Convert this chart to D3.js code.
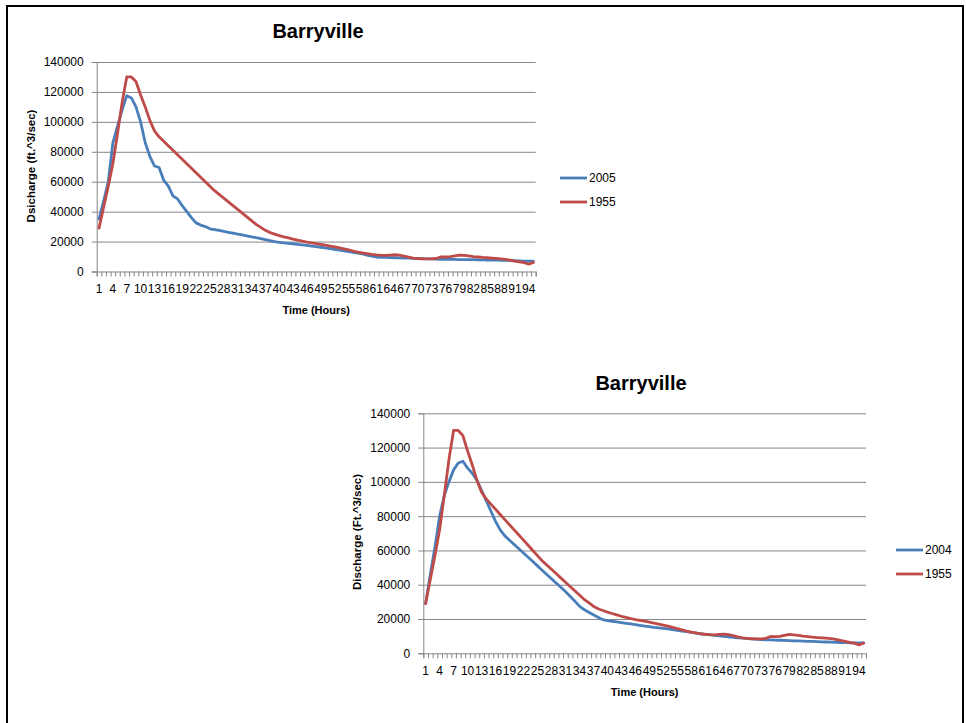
<!DOCTYPE html>
<html>
<head>
<meta charset="utf-8">
<script src="https://cdn.jsdelivr.net/npm/d3@7"></script>
<style>
  html, body { margin: 0; padding: 0; background: #fff; }
  svg { display: block; }
  text { font-family: "Liberation Sans", Arial, sans-serif; fill: #000; }
</style>
</head>
<body>
<svg id="chart" width="966" height="723"></svg>
<script>
// ---------- DATA ----------
const hours = [1,2,3,4,5,6,7,8,9,10,11,12,13,14,15,16,17,18,19,20,
  21,22,23,24,25,26,27,28,29,30,31,32,33,34,35,36,37,38,39,40,
  41,42,43,44,45,46,47,48,49,50,51,52,53,54,55,56,57,58,59,60,
  61,62,63,64,65,66,67,68,69,70,71,72,73,74,75,76,77,78,79,80,
  81,82,83,84,85,86,87,88,89,90,91,92,93,94,95];
const hourTickLabels = [1,4,7,10,13,16,19,22,25,28,31,34,37,40,43,46,49,52,55,58,61,64,67,70,73,76,79,82,85,88,91,94];
const yTickValues = [0,20000,40000,60000,80000,100000,120000,140000];

const discharge1955 = [29000,43000,57000,72000,92000,113000,130000,130000,127000,118000,
  110000,101000,94000,90000,87000,84000,81000,78000,75000,72000,
  69000,66000,63000,60000,57000,54000,51500,49000,46500,44000,
  41500,39000,36500,34000,31500,29500,27500,26000,25000,24000,
  23200,22400,21600,20900,20300,19700,19200,18700,18200,17600,
  17000,16400,15800,15100,14400,13700,13000,12400,11900,11400,
  11100,10900,10800,11000,11200,10900,10300,9600,9000,8700,
  8500,8400,8400,8700,9800,9700,9900,10500,11000,10800,
  10400,10000,9700,9400,9200,9000,8800,8500,8100,7600,
  7000,6400,5900,4900,6000];

const discharge2005 = [35000,47000,60000,86000,97000,108000,117500,116000,110000,100000,
  86000,77000,70500,69500,61000,57000,50500,48500,44000,40000,
  36000,32500,31000,30000,28500,28000,27400,26800,26200,25600,
  25000,24400,23800,23200,22600,22000,21300,20600,20000,19500,
  19100,18800,18500,18200,17800,17400,17000,16600,16200,15800,
  15300,14800,14300,13800,13300,12800,12300,11700,11000,10300,
  9700,9500,9400,9300,9200,9100,9000,8900,8800,8700,
  8600,8500,8400,8300,8200,8200,8100,8100,8000,8000,
  7900,7900,7800,7800,7700,7700,7600,7500,7400,7300,
  7200,7100,7000,7000,7000];

const discharge2004 = [29000,46000,62000,80000,92000,100000,107000,111000,112000,108000,
  105000,101000,95000,89000,83000,77000,72000,68500,66000,63500,
  61000,58500,56000,53500,51000,48500,46000,43500,41000,38500,
  36000,33300,30500,27500,25500,24000,22500,21000,19600,19100,
  18700,18300,17900,17500,17100,16700,16300,15900,15500,15100,
  14800,14500,14200,13800,13400,13000,12600,12200,11800,11400,
  11100,10800,10500,10200,9900,9600,9300,9000,8800,8600,
  8400,8200,8000,7900,7800,7700,7600,7500,7400,7300,
  7200,7100,7000,6900,6800,6700,6600,6500,6400,6300,
  6200,6100,6000,6000,6000];

const blue = "#4a7ebb";
const red = "#be4b48";
const gridColor = "#868686";

const svg = d3.select("#chart");

// outer frame
svg.append("rect")
  .attr("x", 7).attr("y", 6)
  .attr("width", 956).attr("height", 740)
  .attr("fill", "none").attr("stroke", "#000").attr("stroke-width", 2);

function drawChart(cfg) {
  const g = svg.append("g");
  const x = d3.scaleBand().domain(hours).range([cfg.x0, cfg.x1]).padding(0);
  const xMinor = d3.scaleLinear().domain([0, hours.length]).range([cfg.x0, cfg.x1]);
  const y = d3.scaleLinear().domain([0, 140000]).range([cfg.yBot, cfg.yTop]);
  const cx = h => x(h) + x.bandwidth() / 2;

  // gridlines
  const grid = g.append("g")
    .attr("transform", `translate(${cfg.x0},0)`)
    .call(d3.axisLeft(y).tickValues(yTickValues.filter(v => v > 0)).tickSize(-(cfg.x1 - cfg.x0)).tickFormat(""));
  grid.select(".domain").remove();
  grid.selectAll("line").attr("stroke", gridColor).attr("stroke-width", 1);

  // y axis
  const ya = g.append("g")
    .attr("transform", `translate(${cfg.x0},0)`)
    .call(d3.axisLeft(y).tickValues(yTickValues).tickSize(5).tickPadding(8).tickFormat(d3.format("d")));
  ya.select(".domain").attr("stroke", gridColor);
  ya.selectAll("line").attr("stroke", gridColor);
  ya.selectAll("text").style("font-size", "12px").style("font-family", "Liberation Sans, Arial, sans-serif").attr("fill", "#000");

  // x axis minor ticks (between categories)
  const xm = g.append("g")
    .attr("transform", `translate(0,${cfg.yBot})`)
    .call(d3.axisBottom(xMinor).tickValues(d3.range(0, hours.length + 1)).tickSize(5).tickFormat(""));
  xm.select(".domain").attr("stroke", gridColor);
  xm.selectAll("line").attr("stroke", gridColor);

  // x axis labels
  const xa = g.append("g")
    .attr("transform", `translate(0,${cfg.yBot})`)
    .call(d3.axisBottom(x).tickValues(hourTickLabels).tickSize(0).tickPadding(13));
  xa.select(".domain").remove();
  xa.selectAll("text").style("font-size", "12px").style("font-family", "Liberation Sans, Arial, sans-serif").attr("fill", "#000");

  // lines
  const line = d3.line().x((d, i) => cx(hours[i])).y(d => y(d));
  [[cfg.blueData, blue], [cfg.redData, red]].forEach(([data, col]) => {
    g.append("path").datum(data)
      .attr("d", line)
      .attr("fill", "none").attr("stroke", col)
      .attr("stroke-width", 2.8)
      .attr("stroke-linejoin", "round").attr("stroke-linecap", "round");
  });

  // title
  g.append("text").attr("x", cfg.titleX).attr("y", cfg.titleY)
    .attr("text-anchor", "middle").attr("font-weight", "bold")
    .style("font-size", "20px").text(cfg.title);

  // axis titles
  g.append("text").attr("x", (cfg.x0 + cfg.x1) / 2).attr("y", cfg.xTitleY)
    .attr("text-anchor", "middle").attr("font-weight", "bold")
    .style("font-size", "11px").text("Time (Hours)");
  g.append("text")
    .attr("transform", `translate(${cfg.yTitleX},${cfg.yTitleY}) rotate(-90)`)
    .attr("text-anchor", "middle").attr("font-weight", "bold")
    .style("font-size", "11.5px").text(cfg.yTitle);

  // legend
  const items = [[cfg.blueName, blue], ["1955", red]];
  items.forEach(([name, col], i) => {
    const ly = cfg.legendY + i * cfg.legendGap;
    g.append("line").attr("x1", cfg.legendX).attr("x2", cfg.legendX + 27)
      .attr("y1", ly).attr("y2", ly)
      .attr("stroke", col).attr("stroke-width", 2.8);
    g.append("text").attr("x", cfg.legendX + 29).attr("y", ly + 4.3)
      .style("font-size", "12px").text(name);
  });
}

drawChart({
  x0: 96.7, x1: 535.7, yTop: 62, yBot: 271.5,
  title: "Barryville", titleX: 318, titleY: 38,
  yTitle: "Dsicharge (ft.^3/sec)", yTitleX: 35, yTitleY: 166,
  xTitleY: 314,
  blueName: "2005", blueData: discharge2005, redData: discharge1955,
  legendX: 560, legendY: 178, legendGap: 24
});

drawChart({
  x0: 423.3, x1: 866, yTop: 413.3, yBot: 653.3,
  title: "Barryville", titleX: 641, titleY: 390,
  yTitle: "Discharge (Ft.^3/sec)", yTitleX: 361, yTitleY: 532,
  xTitleY: 695.5,
  blueName: "2004", blueData: discharge2004, redData: discharge1955,
  legendX: 896, legendY: 550, legendGap: 24
});
</script>
</body>
</html>
